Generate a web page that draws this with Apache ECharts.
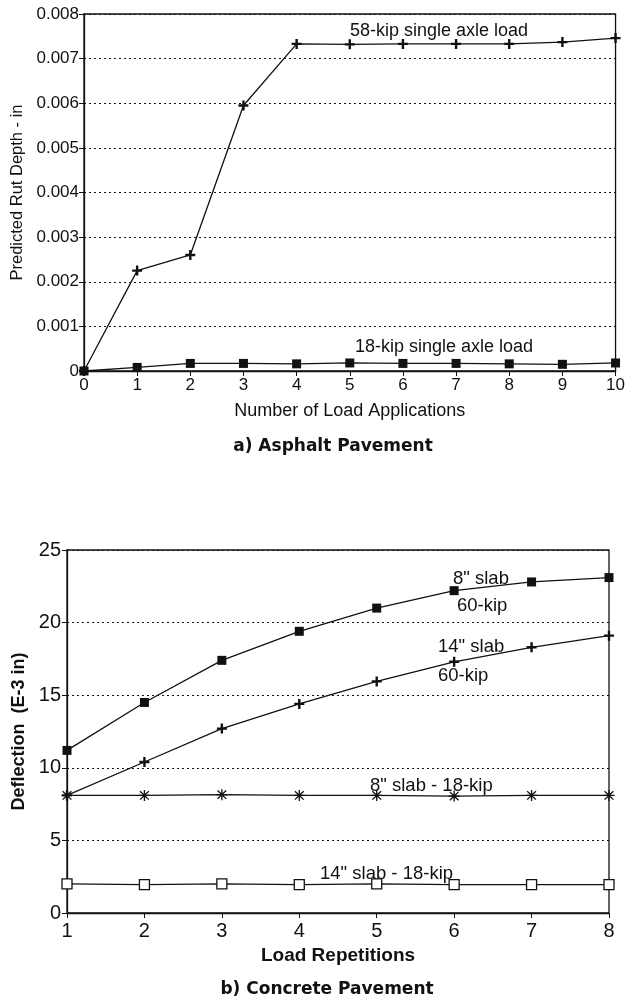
<!DOCTYPE html>
<html>
<head>
<meta charset="utf-8">
<script src="https://cdn.jsdelivr.net/npm/echarts@6/dist/echarts.min.js"></script>
<style>
  html, body { margin: 0; padding: 0; background: #fff; }
  #chart { width: 628px; height: 996px; }
</style>
</head>
<body>
<div id="chart"></div>
<script>
// ── a) Asphalt Pavement ──
const APPLICATIONS = [0, 1, 2, 3, 4, 5, 6, 7, 8, 9, 10]
const RUT_58KIP = [0, 0.00225, 0.0026, 0.00595, 0.00733, 0.00732, 0.00733, 0.00733, 0.00733, 0.00737, 0.00746]
const RUT_18KIP = [0, 0.00008, 0.00017, 0.00017, 0.00016, 0.00018, 0.00017, 0.00017, 0.00016, 0.00015, 0.00018]

// ── b) Concrete Pavement ──
const REPETITIONS = [1, 2, 3, 4, 5, 6, 7, 8]
const DEFL_8_60 = [11.2, 14.5, 17.4, 19.4, 21.0, 22.2, 22.8, 23.1]
const DEFL_14_60 = [8.1, 10.4, 12.7, 14.4, 15.95, 17.3, 18.3, 19.1]
const DEFL_8_18 = [8.1, 8.1, 8.15, 8.1, 8.1, 8.05, 8.1, 8.1]
const DEFL_14_18 = [2.0, 1.95, 2.0, 1.95, 2.0, 1.95, 1.95, 1.95]

const FONT = '"Liberation Sans", Arial, sans-serif'
const WIDE = '"DejaVu Sans", Verdana, sans-serif'
const INK = '#111'

// 마커 모양
const PLUS = 'path://M3.8,0 H6.2 V3.8 H10 V6.2 H6.2 V10 H3.8 V6.2 H0 V3.8 H3.8 Z'
const STAR = 'path://M4.4,0 H5.6 V3.6 L8.6,0.8 L9.4,1.6 L6.4,4.4 H10 V5.6 H6.4 L9.4,8.4 L8.6,9.2 L5.6,6.4 V10 H4.4 V6.4 L1.4,9.2 L0.6,8.4 L3.6,5.6 H0 V4.4 H3.6 L0.6,1.6 L1.4,0.8 L4.4,3.6 Z'

const zip = (xs, ys) => xs.map((x, i) => [x, ys[i]])

function line(gi, data, symbol, size, extra) {
  return Object.assign({
    type: 'line',
    xAxisIndex: gi, yAxisIndex: gi,
    data,
    symbol, symbolSize: size,
    showAllSymbol: true,
    lineStyle: { color: INK, width: 1.3 },
    itemStyle: { color: INK },
    emphasis: { disabled: true },
    animation: false,
    z: 3,
  }, extra || {})
}

function valueAxis(gi, extra) {
  return Object.assign({
    type: 'value',
    gridIndex: gi,
    axisLine: { show: true, lineStyle: { color: INK, width: 1.3 } },
    axisTick: { show: true, inside: false, length: 5, lineStyle: { color: INK } },
    splitLine: { show: false },
    axisLabel: { color: INK, fontFamily: FONT },
    nameTextStyle: { color: INK, fontFamily: FONT },
  }, extra)
}

function note(x, y, text, size) {
  return { type: 'text', left: x, top: y, style: { text, font: size + 'px ' + FONT, fill: INK } }
}

const chart = echarts.init(document.getElementById('chart'), null, { renderer: 'canvas' })

chart.setOption({
  backgroundColor: '#fff',
  animation: false,
  title: [
    { text: 'a) Asphalt Pavement', left: 328, top: 433, textAlign: 'center',
      textStyle: { fontFamily: WIDE, fontSize: 17, fontWeight: 'bold', color: INK } },
    { text: 'b) Concrete Pavement', left: 322, top: 976, textAlign: 'center',
      textStyle: { fontFamily: WIDE, fontSize: 17, fontWeight: 'bold', color: INK } },
  ],
  grid: [
    { left: 84, top: 14, width: 534, height: 357, show: true, borderColor: INK, borderWidth: 1.3, backgroundColor: 'transparent' },
    { left: 67, top: 550, width: 542, height: 363, show: true, borderColor: INK, borderWidth: 1.3, backgroundColor: 'transparent' },
  ],
  xAxis: [
    valueAxis(0, {
      min: 0, max: 10, interval: 1,
      name: 'Number of Load Applications', nameLocation: 'middle', nameGap: 31,
      nameTextStyle: { color: INK, fontFamily: FONT, fontSize: 18 },
      axisLabel: { color: INK, fontFamily: FONT, fontSize: 17, margin: 6 },
    }),
    valueAxis(1, {
      min: 1, max: 8, interval: 1,
      name: 'Load Repetitions', nameLocation: 'middle', nameGap: 33,
      nameTextStyle: { color: INK, fontFamily: FONT, fontSize: 19, fontWeight: 'bold' },
      axisLabel: { color: INK, fontFamily: FONT, fontSize: 20, margin: 8 },
    }),
  ],
  yAxis: [
    valueAxis(0, {
      min: 0, max: 0.008, interval: 0.001,
      name: 'Predicted Rut Depth - in', nameLocation: 'middle', nameGap: 58,
      nameTextStyle: { color: INK, fontFamily: FONT, fontSize: 16.5 },
      axisLabel: { color: INK, fontFamily: FONT, fontSize: 17, margin: 5,
        formatter: v => v === 0 ? '0' : v.toFixed(3) },
      splitLine: { show: true, lineStyle: { color: INK, type: [2, 3], width: 1 } },
    }),
    valueAxis(1, {
      min: 0, max: 25, interval: 5,
      name: 'Deflection  (E-3 in)', nameLocation: 'middle', nameGap: 36,
      nameTextStyle: { color: INK, fontFamily: FONT, fontSize: 18, fontWeight: 'bold' },
      axisLabel: { color: INK, fontFamily: FONT, fontSize: 20, margin: 6 },
      splitLine: { show: true, lineStyle: { color: INK, type: [2, 3], width: 1 } },
    }),
  ],
  series: [
    line(0, zip(APPLICATIONS, RUT_58KIP), PLUS, 10),
    line(0, zip(APPLICATIONS, RUT_18KIP), 'rect', 9),
    line(1, zip(REPETITIONS, DEFL_8_60), 'rect', 9),
    line(1, zip(REPETITIONS, DEFL_14_60), PLUS, 10),
    line(1, zip(REPETITIONS, DEFL_8_18), STAR, 11),
    line(1, zip(REPETITIONS, DEFL_14_18), 'rect', 10,
      { itemStyle: { color: '#fff', borderColor: INK, borderWidth: 1.3 } }),
  ],
  graphic: [
    note(350, 22, '58-kip single axle load', 18),
    note(355, 338, '18-kip single axle load', 18),
    note(453, 569, '8" slab', 18.5),
    note(457, 596, '60-kip', 18.5),
    note(438, 637, '14" slab', 18.5),
    note(438, 666, '60-kip', 18.5),
    note(370, 776, '8" slab - 18-kip', 18.5),
    note(320, 864, '14" slab - 18-kip', 18.5),
  ],
})
</script>
</body>
</html>
